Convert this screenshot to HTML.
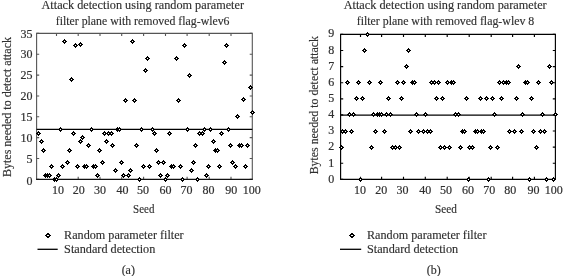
<!DOCTYPE html>
<html><head><meta charset="utf-8"><style>
html,body{margin:0;padding:0;background:#fff;width:563px;height:276px;overflow:hidden}
svg{display:block;filter:grayscale(1)}
</style></head><body>
<svg width="563" height="276" viewBox="0 0 563 276" font-family='"Liberation Serif", serif' font-size="12" fill="#303030" stroke="#303030" stroke-width="0.15">
<defs><g id="m" shape-rendering="crispEdges" stroke="none"><path d="M0 -2h1v1h1v1h1v1h-1v1h-1v1h-1v-1h-1v-1h-1v-1h1v-1h1z" fill="#000"/><rect width="1" height="1" fill="#fff"/></g><g id="m2" shape-rendering="crispEdges" stroke="none"><path d="M0 -2h2v1h1v1h1v1h-1v1h-1v1h-2v-1h-1v-1h-1v-1h1v-1h1z" fill="#000"/><rect width="2" height="1" fill="#fff"/></g></defs>
<rect width="563" height="276" fill="#fff" stroke="none"/>
<g stroke="none">
<path d="M36.60 179.30V33.40H252.30V179.30" fill="none" stroke="#555" stroke-width="1.1"/>
<path d="M56.50 179.30v-2.6M56.50 33.40v2.6M78.20 179.30v-2.6M78.20 33.40v2.6M100.00 179.30v-2.6M100.00 33.40v2.6M121.70 179.30v-2.6M121.70 33.40v2.6M143.60 179.30v-2.6M143.60 33.40v2.6M165.50 179.30v-2.6M165.50 33.40v2.6M187.10 179.30v-2.6M187.10 33.40v2.6M209.20 179.30v-2.6M209.20 33.40v2.6M231.00 179.30v-2.6M231.00 33.40v2.6M36.60 179.30h2.6M252.30 179.30h-2.6M36.60 158.46h2.6M252.30 158.46h-2.6M36.60 137.61h2.6M252.30 137.61h-2.6M36.60 116.77h2.6M252.30 116.77h-2.6M36.60 95.93h2.6M252.30 95.93h-2.6M36.60 75.09h2.6M252.30 75.09h-2.6M36.60 54.24h2.6M252.30 54.24h-2.6M36.60 33.40h2.6M252.30 33.40h-2.6" stroke="#555" stroke-width="1.1" fill="none"/>
<path d="M36.10 179.30H252.80" stroke="#111" stroke-width="1.25" fill="none"/>
<text x="57.90" y="193.9" text-anchor="middle" stroke="#303030" stroke-width="0.2">10</text>
<text x="78.70" y="193.9" text-anchor="middle" stroke="#303030" stroke-width="0.2">20</text>
<text x="100.00" y="193.9" text-anchor="middle" stroke="#303030" stroke-width="0.2">30</text>
<text x="122.40" y="193.9" text-anchor="middle" stroke="#303030" stroke-width="0.2">40</text>
<text x="143.10" y="193.9" text-anchor="middle" stroke="#303030" stroke-width="0.2">50</text>
<text x="165.50" y="193.9" text-anchor="middle" stroke="#303030" stroke-width="0.2">60</text>
<text x="186.40" y="193.9" text-anchor="middle" stroke="#303030" stroke-width="0.2">70</text>
<text x="208.60" y="193.9" text-anchor="middle" stroke="#303030" stroke-width="0.2">80</text>
<text x="231.20" y="193.9" text-anchor="middle" stroke="#303030" stroke-width="0.2">90</text>
<text x="251.70" y="193.9" text-anchor="middle" stroke="#303030" stroke-width="0.2">100</text>
<text x="32.40" y="185.40" text-anchor="end" stroke="#303030" stroke-width="0.2">0</text>
<text x="32.40" y="162.56" text-anchor="end" stroke="#303030" stroke-width="0.2">5</text>
<text x="32.40" y="141.71" text-anchor="end" stroke="#303030" stroke-width="0.2">10</text>
<text x="32.40" y="120.87" text-anchor="end" stroke="#303030" stroke-width="0.2">15</text>
<text x="32.40" y="100.03" text-anchor="end" stroke="#303030" stroke-width="0.2">20</text>
<text x="32.40" y="79.19" text-anchor="end" stroke="#303030" stroke-width="0.2">25</text>
<text x="32.40" y="58.34" text-anchor="end" stroke="#303030" stroke-width="0.2">30</text>
<text x="32.40" y="37.50" text-anchor="end" stroke="#303030" stroke-width="0.2">35</text>
<line x1="36.60" x2="252.30" y1="129.28" y2="129.28" stroke="#000" stroke-width="1.2"/>
<use href="#m" x="38" y="133"/><use href="#m" x="41" y="141"/><use href="#m" x="43" y="150"/><use href="#m" x="45" y="175"/><use href="#m" x="47" y="175"/><use href="#m" x="49" y="175"/><use href="#m" x="51" y="166"/><use href="#m" x="54" y="179"/><use href="#m" x="56" y="179"/><use href="#m" x="58" y="175"/><use href="#m" x="60" y="129"/><use href="#m" x="62" y="166"/><use href="#m" x="64" y="41"/><use href="#m" x="67" y="162"/><use href="#m" x="69" y="150"/><use href="#m" x="71" y="79"/><use href="#m" x="73" y="133"/><use href="#m" x="75" y="45"/><use href="#m" x="77" y="166"/><use href="#m" x="80" y="44"/><use href="#m" x="80" y="141"/><use href="#m" x="82" y="137"/><use href="#m" x="84" y="166"/><use href="#m" x="86" y="166"/><use href="#m" x="88" y="145"/><use href="#m" x="91" y="129"/><use href="#m" x="93" y="166"/><use href="#m" x="95" y="166"/><use href="#m" x="97" y="175"/><use href="#m" x="99" y="150"/><use href="#m" x="102" y="162"/><use href="#m" x="104" y="133"/><use href="#m" x="106" y="141"/><use href="#m" x="108" y="133"/><use href="#m" x="111" y="133"/><use href="#m" x="112" y="145"/><use href="#m" x="115" y="170"/><use href="#m" x="117" y="129"/><use href="#m" x="119" y="129"/><use href="#m" x="121" y="162"/><use href="#m" x="123" y="175"/><use href="#m" x="125" y="100"/><use href="#m" x="128" y="175"/><use href="#m" x="130" y="170"/><use href="#m" x="132" y="41"/><use href="#m" x="134" y="100"/><use href="#m" x="136" y="145"/><use href="#m" x="139" y="179"/><use href="#m" x="141" y="129"/><use href="#m" x="143" y="166"/><use href="#m" x="145" y="70"/><use href="#m" x="147" y="58"/><use href="#m" x="149" y="166"/><use href="#m" x="152" y="129"/><use href="#m" x="154" y="133"/><use href="#m" x="156" y="150"/><use href="#m" x="158" y="162"/><use href="#m" x="160" y="175"/><use href="#m" x="163" y="162"/><use href="#m" x="165" y="179"/><use href="#m" x="167" y="175"/><use href="#m" x="169" y="133"/><use href="#m" x="171" y="166"/><use href="#m" x="173" y="166"/><use href="#m" x="176" y="58"/><use href="#m" x="178" y="100"/><use href="#m" x="180" y="166"/><use href="#m" x="182" y="179"/><use href="#m" x="184" y="45"/><use href="#m" x="187" y="129"/><use href="#m" x="189" y="75"/><use href="#m" x="191" y="170"/><use href="#m" x="193" y="162"/><use href="#m" x="195" y="145"/><use href="#m" x="197" y="179"/><use href="#m" x="199" y="133"/><use href="#m" x="202" y="133"/><use href="#m" x="204" y="129"/><use href="#m" x="206" y="175"/><use href="#m" x="208" y="166"/><use href="#m" x="210" y="129"/><use href="#m" x="213" y="141"/><use href="#m" x="215" y="150"/><use href="#m" x="217" y="150"/><use href="#m" x="219" y="166"/><use href="#m" x="221" y="133"/><use href="#m" x="224" y="62"/><use href="#m" x="226" y="45"/><use href="#m" x="228" y="129"/><use href="#m" x="230" y="145"/><use href="#m" x="232" y="162"/><use href="#m" x="235" y="166"/><use href="#m" x="237" y="116"/><use href="#m" x="239" y="145"/><use href="#m" x="241" y="145"/><use href="#m" x="243" y="99"/><use href="#m" x="245" y="166"/><use href="#m" x="247" y="145"/><use href="#m" x="250" y="87"/><use href="#m" x="252" y="112"/>
<path d="M340.60 179.30V34.40H555.40V179.30" fill="none" stroke="#000" stroke-width="1.15"/>
<path d="M360.50 179.30v-2.6M360.50 34.40v2.6M381.60 179.30v-2.6M381.60 34.40v2.6M403.50 179.30v-2.6M403.50 34.40v2.6M425.30 179.30v-2.6M425.30 34.40v2.6M447.20 179.30v-2.6M447.20 34.40v2.6M469.20 179.30v-2.6M469.20 34.40v2.6M491.20 179.30v-2.6M491.20 34.40v2.6M512.60 179.30v-2.6M512.60 34.40v2.6M534.40 179.30v-2.6M534.40 34.40v2.6M340.60 179.30h2.6M555.40 179.30h-2.6M340.60 163.20h2.6M555.40 163.20h-2.6M340.60 147.10h2.6M555.40 147.10h-2.6M340.60 131.00h2.6M555.40 131.00h-2.6M340.60 114.90h2.6M555.40 114.90h-2.6M340.60 98.80h2.6M555.40 98.80h-2.6M340.60 82.70h2.6M555.40 82.70h-2.6M340.60 66.60h2.6M555.40 66.60h-2.6M340.60 50.50h2.6M555.40 50.50h-2.6M340.60 34.40h2.6M555.40 34.40h-2.6" stroke="#000" stroke-width="1.15" fill="none"/>
<path d="M340.10 179.30H555.90" stroke="#000" stroke-width="1.2999999999999998" fill="none"/>
<text x="359.90" y="193.9" text-anchor="middle" stroke="#303030" stroke-width="0.2">10</text>
<text x="381.30" y="193.9" text-anchor="middle" stroke="#303030" stroke-width="0.2">20</text>
<text x="402.60" y="193.9" text-anchor="middle" stroke="#303030" stroke-width="0.2">30</text>
<text x="425.20" y="193.9" text-anchor="middle" stroke="#303030" stroke-width="0.2">40</text>
<text x="445.90" y="193.9" text-anchor="middle" stroke="#303030" stroke-width="0.2">50</text>
<text x="468.00" y="193.9" text-anchor="middle" stroke="#303030" stroke-width="0.2">60</text>
<text x="489.30" y="193.9" text-anchor="middle" stroke="#303030" stroke-width="0.2">70</text>
<text x="510.30" y="193.9" text-anchor="middle" stroke="#303030" stroke-width="0.2">80</text>
<text x="533.40" y="193.9" text-anchor="middle" stroke="#303030" stroke-width="0.2">90</text>
<text x="553.70" y="193.9" text-anchor="middle" stroke="#303030" stroke-width="0.2">100</text>
<text x="334.30" y="182.60" text-anchor="end" stroke="#303030" stroke-width="0.2">0</text>
<text x="334.30" y="166.50" text-anchor="end" stroke="#303030" stroke-width="0.2">1</text>
<text x="334.30" y="150.40" text-anchor="end" stroke="#303030" stroke-width="0.2">2</text>
<text x="334.30" y="134.30" text-anchor="end" stroke="#303030" stroke-width="0.2">3</text>
<text x="334.30" y="118.20" text-anchor="end" stroke="#303030" stroke-width="0.2">4</text>
<text x="334.30" y="102.10" text-anchor="end" stroke="#303030" stroke-width="0.2">5</text>
<text x="334.30" y="86.00" text-anchor="end" stroke="#303030" stroke-width="0.2">6</text>
<text x="334.30" y="69.90" text-anchor="end" stroke="#303030" stroke-width="0.2">7</text>
<text x="334.30" y="53.80" text-anchor="end" stroke="#303030" stroke-width="0.2">8</text>
<text x="334.30" y="36.90" text-anchor="end" stroke="#303030" stroke-width="0.2">9</text>
<line x1="340.60" x2="555.40" y1="115.20" y2="115.20" stroke="#000" stroke-width="1.2"/>
<use href="#m" x="341" y="147"/><use href="#m" x="342" y="131"/><use href="#m" x="345" y="131"/><use href="#m" x="347" y="82"/><use href="#m" x="349" y="114"/><use href="#m" x="351" y="131"/><use href="#m" x="353" y="114"/><use href="#m" x="356" y="98"/><use href="#m" x="358" y="82"/><use href="#m" x="360" y="179"/><use href="#m" x="362" y="98"/><use href="#m" x="364" y="50"/><use href="#m" x="367" y="34"/><use href="#m" x="369" y="82"/><use href="#m" x="371" y="147"/><use href="#m" x="373" y="114"/><use href="#m" x="375" y="131"/><use href="#m" x="377" y="114"/><use href="#m" x="379" y="114"/><use href="#m" x="380" y="82"/><use href="#m" x="381" y="114"/><use href="#m" x="384" y="131"/><use href="#m" x="386" y="114"/><use href="#m" x="388" y="98"/><use href="#m" x="390" y="114"/><use href="#m" x="392" y="147"/><use href="#m" x="395" y="147"/><use href="#m" x="397" y="82"/><use href="#m" x="399" y="147"/><use href="#m" x="401" y="98"/><use href="#m" x="403" y="82"/><use href="#m" x="406" y="66"/><use href="#m" x="408" y="50"/><use href="#m" x="410" y="131"/><use href="#m" x="412" y="82"/><use href="#m" x="414" y="82"/><use href="#m" x="416" y="114"/><use href="#m" x="418" y="131"/><use href="#m" x="423" y="131"/><use href="#m" x="425" y="114"/><use href="#m" x="427" y="131"/><use href="#m" x="430" y="131"/><use href="#m" x="431" y="82"/><use href="#m" x="434" y="82"/><use href="#m" x="436" y="98"/><use href="#m" x="438" y="82"/><use href="#m" x="440" y="147"/><use href="#m" x="442" y="98"/><use href="#m" x="444" y="147"/><use href="#m" x="447" y="82"/><use href="#m" x="449" y="147"/><use href="#m" x="451" y="82"/><use href="#m" x="453" y="82"/><use href="#m" x="455" y="114"/><use href="#m" x="458" y="114"/><use href="#m" x="460" y="147"/><use href="#m" x="462" y="131"/><use href="#m" x="464" y="131"/><use href="#m" x="466" y="98"/><use href="#m" x="468" y="179"/><use href="#m" x="469" y="147"/><use href="#m" x="472" y="147"/><use href="#m" x="475" y="131"/><use href="#m" x="477" y="131"/><use href="#m" x="480" y="98"/><use href="#m" x="481" y="131"/><use href="#m" x="483" y="131"/><use href="#m" x="486" y="98"/><use href="#m" x="488" y="179"/><use href="#m" x="490" y="147"/><use href="#m" x="492" y="98"/><use href="#m" x="494" y="114"/><use href="#m" x="497" y="147"/><use href="#m" x="499" y="82"/><use href="#m" x="501" y="98"/><use href="#m" x="503" y="82"/><use href="#m" x="506" y="82"/><use href="#m" x="508" y="82"/><use href="#m" x="509" y="131"/><use href="#m" x="514" y="131"/><use href="#m" x="516" y="98"/><use href="#m" x="518" y="66"/><use href="#m" x="521" y="131"/><use href="#m" x="522" y="114"/><use href="#m" x="525" y="82"/><use href="#m" x="527" y="82"/><use href="#m" x="529" y="179"/><use href="#m" x="531" y="98"/><use href="#m" x="533" y="131"/><use href="#m" x="536" y="147"/><use href="#m" x="538" y="82"/><use href="#m" x="540" y="131"/><use href="#m" x="542" y="114"/><use href="#m" x="544" y="131"/><use href="#m" x="546" y="179"/><use href="#m" x="549" y="66"/><use href="#m" x="551" y="82"/><use href="#m" x="553" y="179"/><use href="#m" x="555" y="114"/>
</g>
<text x="41.5" y="8.8" text-anchor="start" textLength="202.5" lengthAdjust="spacingAndGlyphs" font-size="12.2">Attack detection using random parameter</text>
<text x="55.8" y="24.5" text-anchor="start" textLength="173.7" lengthAdjust="spacingAndGlyphs" font-size="12.2">filter plane with removed flag-wlev6</text>
<text x="343.7" y="8.5" text-anchor="start" textLength="203.0" lengthAdjust="spacingAndGlyphs" font-size="12.2">Attack detection using random parameter</text>
<text x="356.7" y="24.5" text-anchor="start" textLength="177.6" lengthAdjust="spacingAndGlyphs" font-size="12.2">filter plane with removed flag-wlev 8</text>
<text x="133.1" y="212.7" text-anchor="start" textLength="21.3" lengthAdjust="spacingAndGlyphs">Seed</text>
<text x="435.1" y="212.7" text-anchor="start" textLength="21.8" lengthAdjust="spacingAndGlyphs">Seed</text>
<text transform="translate(10.8 177) rotate(-90)" textLength="140" lengthAdjust="spacingAndGlyphs">Bytes needed to detect attack</text>
<text transform="translate(318.0 174.3) rotate(-90)" textLength="138.3" lengthAdjust="spacingAndGlyphs">Bytes needed to detect attack</text>
<use href="#m2" x="47" y="235"/>
<line x1="37.5" x2="57.7" y1="249.3" y2="249.3" stroke="#000" stroke-width="1.3"/>
<text x="64.1" y="239.0" text-anchor="start" textLength="119.5" lengthAdjust="spacingAndGlyphs">Random parameter filter</text>
<text x="64.1" y="252.6" text-anchor="start" textLength="91.2" lengthAdjust="spacingAndGlyphs">Standard detection</text>
<use href="#m2" x="351" y="235"/>
<line x1="340.0" x2="361.2" y1="249.3" y2="249.3" stroke="#000" stroke-width="1.3"/>
<text x="367.0" y="239.0" text-anchor="start" textLength="119.5" lengthAdjust="spacingAndGlyphs">Random parameter filter</text>
<text x="367.0" y="252.6" text-anchor="start" textLength="91.2" lengthAdjust="spacingAndGlyphs">Standard detection</text>
<text x="128.3" y="273.8" text-anchor="middle">(a)</text>
<text x="433.7" y="273.8" text-anchor="middle">(b)</text>
</svg>
</body></html>
